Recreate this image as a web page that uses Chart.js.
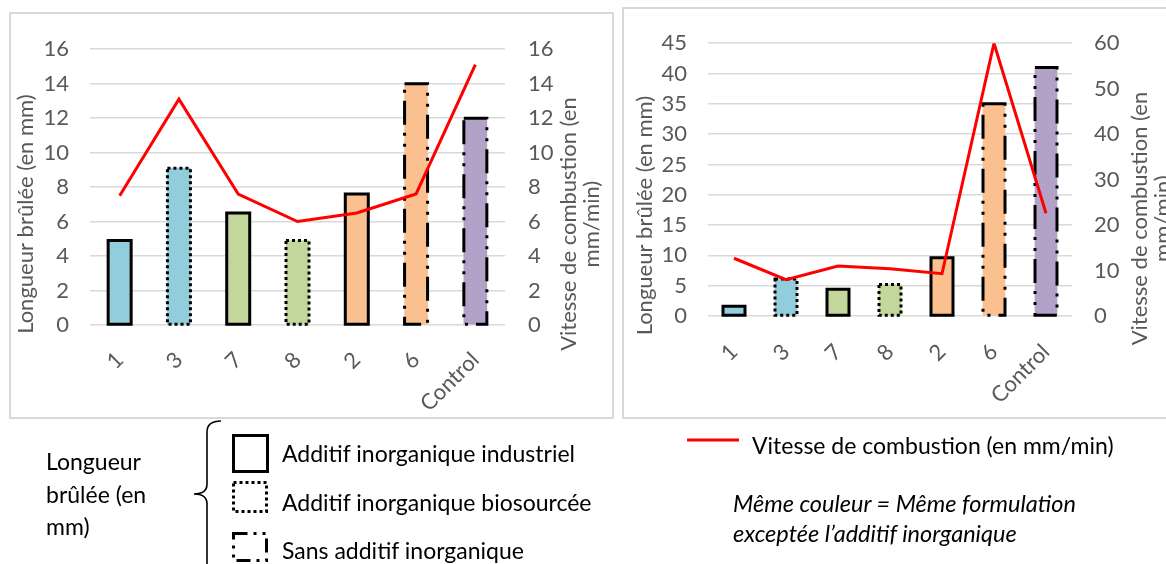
<!DOCTYPE html>
<html>
<head>
<meta charset="utf-8">
<script src="https://cdn.jsdelivr.net/npm/chart.js@4.4.1/dist/chart.umd.min.js"></script>
<style>
  html, body { margin: 0; padding: 0; background: #fff; }
  body { width: 1166px; height: 564px; overflow: hidden; position: relative; font-family: Lato, 'Open Sans', sans-serif; }
  .frame { position: absolute; border: 2px solid #d9d9d9; box-sizing: border-box; }
  canvas { position: absolute; }
  .lg { position: absolute; color: #000; font-size: 23px; white-space: nowrap; line-height: 24px; }
  .it { font-style: italic; }
  svg { position: absolute; left: 0; top: 0; }
</style>
</head>
<body>
<div class="frame" style="left:9px;top:12px;width:605px;height:407px"></div>
<canvas id="chartA" width="602" height="404" style="left:10px;top:13px"></canvas>
<div class="frame" style="left:622px;top:7px;width:580px;height:412px"></div>
<canvas id="chartB" width="543" height="409" style="left:623px;top:8px"></canvas>

<svg width="1166" height="564" viewBox="0 0 1166 564">
  <!-- brace grouping the three bar outline styles -->
  <path d="M221,421 Q207,421 207,432 L207,484 Q207,494 194,494 Q207,494 207,504 L207,566"
        fill="none" stroke="#000" stroke-width="1.6"/>
  <rect x="233.5" y="435.5" width="34" height="36" fill="none" stroke="#000" stroke-width="3"/>
  <rect x="233.5" y="482.5" width="33" height="29" fill="none" stroke="#000" stroke-width="3" stroke-dasharray="3 3"/>
  <rect x="233.5" y="533.5" width="33" height="27" fill="none" stroke="#000" stroke-width="3" stroke-dasharray="14 6 3 6 3 6"/>
  <line x1="687" y1="440" x2="739" y2="440" stroke="#ff0000" stroke-width="3"/>
</svg>

<div class="lg" style="left:46px;top:445px;line-height:32.5px">Longueur<br>brûlée (en<br>mm)</div>
<div class="lg" style="left:282px;top:441px">Additif inorganique industriel</div>
<div class="lg" style="left:282px;top:490px">Additif inorganique biosourcée</div>
<div class="lg" style="left:282px;top:538px">Sans additif inorganique</div>
<div class="lg" style="left:752px;top:433px">Vitesse de combustion (en mm/min)</div>
<div class="lg it" style="left:733px;top:488px;line-height:30px;font-size:23.5px">Même couleur = Même formulation<br>exceptée l’additif inorganique</div>

<script>
// Formulations, in plotting order
const categories = ['1', '3', '7', '8', '2', '6', 'Control'];
// Inorganic additive used in each formulation
const additive = ['industriel', 'biosourcé', 'industriel', 'biosourcé', 'industriel', 'sans', 'sans'];
// Base formulation group (same colour = same formulation)
const formulation = ['A', 'A', 'B', 'B', 'C', 'C', 'D'];

// First test series
const burnedA = [4.9, 9.1, 6.5, 4.9, 7.6, 14.0, 12.0];     // Longueur brûlée (mm)
const speedA  = [7.5, 13.1, 7.6, 6.0, 6.5, 7.6, 15.1];     // Vitesse (mm/min)
const ticksA  = { burned: [0, 16, 2], speed: [0, 16, 2] }; // min, max, step

// Second test series
const burnedB = [1.6, 6.1, 4.4, 5.2, 9.6, 35.0, 41.0];
const speedB  = [12.7, 8.0, 11.0, 10.4, 9.3, 60.0, 22.6];
const ticksB  = { burned: [0, 45, 5], speed: [0, 60, 10] };

const groupColors = { A: '#92CDDC', B: '#C3D69B', C: '#FAC090', D: '#B2A2C7' };
const outlineDash = { 'industriel': [], 'biosourcé': [3, 3], 'sans': [24, 8, 3, 8, 3, 8] };

const TICK_GREY = '#595959';
const GRID_GREY = '#d9d9d9';

// Bar outlines drawn as stroked paths so each bar can carry its own dash pattern
const barOutlines = {
  id: 'barOutlines',
  afterDatasetDraw(chart, args) {
    if (chart.data.datasets[args.index].type !== 'bar') return;
    const ctx = chart.ctx;
    ctx.save();
    ctx.strokeStyle = '#000';
    ctx.lineWidth = 3;
    ctx.lineCap = 'butt';
    ctx.lineJoin = 'miter';
    args.meta.data.forEach((bar, i) => {
      const { x, y, base, width } = bar.getProps(['x', 'y', 'base', 'width'], true);
      const l = x - width / 2, r = x + width / 2;
      ctx.setLineDash(outlineDash[additive[i]]);
      ctx.beginPath();
      ctx.moveTo(l, y);
      ctx.lineTo(r, y);
      ctx.lineTo(r, base);
      ctx.lineTo(l, base);
      ctx.closePath();
      ctx.stroke();
    });
    ctx.restore();
  }
};

// Rotated axis titles (both read bottom-to-top, as on the left axis)
const axisTitles = {
  id: 'axisTitles',
  afterDraw(chart, args, opts) {
    const { ctx, chartArea: a } = chart;
    const cy = (a.top + a.bottom) / 2;
    ctx.save();
    ctx.fillStyle = TICK_GREY;
    ctx.font = opts.font;
    ctx.textAlign = 'center';
    ctx.textBaseline = 'alphabetic';
    for (const t of opts.items) {
      const x = t.side === 'left' ? a.left - t.dist : a.right + t.dist;
      ctx.save();
      ctx.translate(x, cy + t.dy);
      ctx.rotate(-Math.PI / 2);
      ctx.fillText(t.text, 0, 0);
      ctx.restore();
    }
    ctx.restore();
  }
};

function makeChart(id, burned, speed, ticks, geo) {
  const tickFont = { family: 'Lato', size: geo.tickSize };
  return new Chart(document.getElementById(id), {
    data: {
      labels: categories,
      datasets: [
        {
          type: 'line',
          label: 'Vitesse de combustion (en mm/min)',
          data: speed,
          yAxisID: 'y1',
          borderColor: '#ff0000',
          borderWidth: 3,
          pointRadius: 0,
          tension: 0,
          order: 0
        },
        {
          type: 'bar',
          label: 'Longueur brûlée (en mm)',
          data: burned,
          yAxisID: 'y',
          backgroundColor: formulation.map(f => groupColors[f]),
          borderWidth: 0,
          barThickness: geo.barThickness,
          order: 1
        }
      ]
    },
    options: {
      responsive: false,
      animation: false,
      layout: { padding: { top: geo.top, left: 0, right: 0, bottom: 0 } },
      plugins: {
        legend: { display: false },
        tooltip: { enabled: false },
        axisTitles: {
          font: geo.titleFont,
          items: [
            { side: 'left', dist: geo.leftTitle, dy: geo.leftDy, text: 'Longueur brûlée (en mm)' },
            { side: 'right', dist: geo.rightTitle, dy: geo.rightDy, text: 'Vitesse de combustion (en' },
            { side: 'right', dist: geo.rightTitle + geo.titleGap, dy: geo.rightDy, text: 'mm/min)' }
          ]
        }
      },
      scales: {
        x: {
          type: 'category',
          offset: true,
          grid: { display: false },
          border: { display: false },
          ticks: { color: TICK_GREY, font: tickFont, minRotation: 45, maxRotation: 45, padding: geo.xPad, autoSkip: false },
          afterFit: s => { s.height = geo.xHeight; }
        },
        y: {
          position: 'left',
          min: ticks.burned[0], max: ticks.burned[1],
          grid: { color: GRID_GREY, lineWidth: 1.5, drawTicks: false },
          border: { display: false },
          ticks: { stepSize: ticks.burned[2], color: TICK_GREY, font: tickFont, padding: geo.yPad },
          afterFit: s => { s.width = geo.yWidth; }
        },
        y1: {
          position: 'right',
          min: ticks.speed[0], max: ticks.speed[1],
          grid: { drawOnChartArea: false, drawTicks: false },
          border: { display: false },
          ticks: { stepSize: ticks.speed[2], color: TICK_GREY, font: tickFont, padding: geo.y1Pad },
          afterFit: s => { s.width = geo.y1Width; }
        }
      }
    },
    plugins: [barOutlines, axisTitles]
  });
}

function drawAll() {
  makeChart('chartA', burnedA, speedA, ticksA, {
    top: 34, xHeight: 92, yWidth: 80, y1Width: 107, barThickness: 23,
    tickSize: 22, xPad: 14, yPad: 21, y1Pad: 23,
    titleFont: '22px Lato', leftTitle: 57, leftDy: 27, rightTitle: 71, rightDy: 37, titleGap: 23
  });
  makeChart('chartB', burnedB, speedB, ticksB, {
    top: 33.5, xHeight: 101, yWidth: 85, y1Width: 94, barThickness: 22,
    tickSize: 22, xPad: 15, yPad: 21, y1Pad: 22,
    titleFont: '22px Lato', leftTitle: 56, leftDy: 36, rightTitle: 75, rightDy: 39, titleGap: 23
  });
}

if (document.fonts && document.fonts.load) {
  Promise.all([document.fonts.load('22px Lato'), document.fonts.load('italic 20px Lato')])
    .then(drawAll, drawAll);
} else {
  drawAll();
}
</script>
</body>
</html>
